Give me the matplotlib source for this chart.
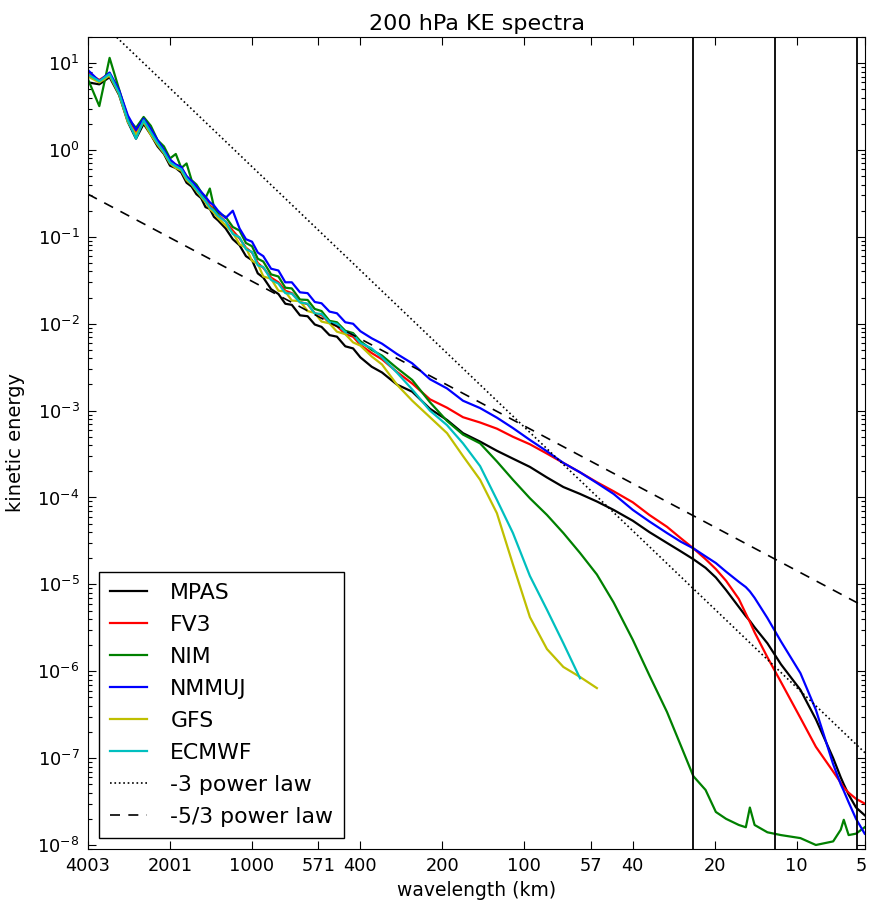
import matplotlib
matplotlib.use("Agg")
import matplotlib.pyplot as plt
from matplotlib.ticker import NullLocator, NullFormatter, FixedLocator, FixedFormatter, LogFormatterMathtext
from matplotlib.transforms import ScaledTranslation

plt.rcParams['font.family'] = ['DejaVu Sans']
plt.rcParams['font.size'] = 12.8
plt.rcParams['mathtext.default'] = 'regular'

# wavenumber (cycles around the globe); wavelength = 40030 km / wavenumber
wavenumber = [10, 11, 12, 13, 14, 15, 16, 17, 18, 19, 20, 21, 22, 23, 24, 25, 26, 27, 28, 29, 30,
              32, 34, 36, 38, 40, 42, 44, 47, 50, 53, 56, 60, 64, 68, 72, 77, 82, 88, 94, 100,
              110, 120, 136, 155, 180, 208, 238, 275, 317, 363, 419, 484, 556, 640, 738, 850,
              1000, 1150, 1335, 1500, 1668, 1850, 2018, 2200, 2450, 2600, 2690, 2800, 3120, 3500,
              4125, 4700, 5440, 5800, 5950, 6200, 6600, 7100]

mpas = [6.0, 5.7, 6.9, 4.3, 2.1, 1.35, 2.0, 1.5, 1.1, 0.90, 0.66, 0.62, 0.55, 0.42, 0.38, 0.31,
        0.28, 0.22, 0.21, 0.17, 0.155, 0.125, 0.094, 0.080, 0.060, 0.054, 0.038, 0.034, 0.025,
        0.022, 0.017, 0.0165, 0.0125, 0.0122, 0.0098, 0.0092, 0.0074, 0.0071, 0.0055, 0.0052, 0.0041,
        3.2e-3, 2.75e-3, 2.0e-3, 1.65e-3, 1.05e-3, 7.8e-4, 5.5e-4, 4.4e-4, 3.45e-4, 2.8e-4, 2.25e-4,
        1.7e-4, 1.32e-4, 1.1e-4, 9.0e-5, 7.2e-5, 5.4e-5, 4.0e-5, 3.0e-5, 2.4e-5, 1.95e-5, 1.55e-5,
        1.2e-5, 8.6e-6, 5.5e-6, 4.3e-6, 3.8e-6, 3.2e-6, 2.1e-6, 1.2e-6, 6.1e-7, 2.8e-7, 1.0e-7,
        6.0e-8, 5.0e-8, 3.8e-8, 2.7e-8, 2.2e-8]

fv3 = [7.6, 6.4, 7.6, 4.8, 2.4, 1.6, 2.3, 1.7, 1.25, 0.98, 0.74, 0.68, 0.62, 0.50, 0.42, 0.37,
       0.31, 0.27, 0.23, 0.21, 0.18, 0.15, 0.118, 0.096, 0.075, 0.066, 0.050, 0.044, 0.034, 0.030,
       0.024, 0.0225, 0.0178, 0.0168, 0.0132, 0.0126, 0.0102, 0.0094, 0.0076, 0.0071, 0.0057,
       4.6e-3, 3.9e-3, 2.8e-3, 2.05e-3, 1.35e-3, 1.08e-3, 8.4e-4, 7.3e-4, 6.2e-4, 5.0e-4, 4.1e-4,
       3.2e-4, 2.5e-4, 1.95e-4, 1.5e-4, 1.18e-4, 8.8e-5, 6.3e-5, 4.6e-5, 3.4e-5, 2.6e-5, 1.95e-5,
       1.5e-5, 1.1e-5, 6.8e-6, 4.6e-6, 3.7e-6, 2.8e-6, 1.45e-6, 7.5e-7, 2.9e-7, 1.35e-7, 7.0e-8,
       5.2e-8, 4.6e-8, 4.0e-8, 3.4e-8, 3.0e-8]

nim = [6.5, 3.2, 11.5, 5.0, 2.3, 1.8, 2.4, 1.9, 1.3, 1.1, 0.80, 0.90, 0.62, 0.70, 0.45, 0.40,
       0.33, 0.28, 0.36, 0.22, 0.19, 0.17, 0.13, 0.118, 0.085, 0.078, 0.056, 0.052, 0.037, 0.035,
       0.026, 0.0255, 0.019, 0.0188, 0.0148, 0.0140, 0.0108, 0.0104, 0.0083, 0.0078, 0.0063,
       5.0e-3, 4.3e-3, 3.1e-3, 2.25e-3, 1.25e-3, 7.6e-4, 5.3e-4, 4.2e-4, 2.6e-4, 1.6e-4, 9.8e-5,
       6.3e-5, 3.9e-5, 2.3e-5, 1.3e-5, 6.2e-6, 2.3e-6, 9.0e-7, 3.4e-7, 1.4e-7, 6.2e-8, 4.3e-8,
       2.4e-8, 2.0e-8, 1.7e-8, 1.6e-8, 2.7e-8, 1.7e-8, 1.4e-8, 1.3e-8, 1.2e-8, 1.0e-8, 1.1e-8,
       1.5e-8, 1.95e-8, 1.3e-8, 1.35e-8, 1.6e-8]

nmmuj = [8.3, 6.2, 7.8, 4.9, 2.5, 1.7, 2.3, 1.75, 1.3, 1.0, 0.78, 0.68, 0.64, 0.50, 0.44, 0.38,
         0.33, 0.29, 0.25, 0.23, 0.20, 0.165, 0.20, 0.125, 0.094, 0.088, 0.066, 0.060, 0.043, 0.041,
         0.030, 0.030, 0.023, 0.0225, 0.0178, 0.0172, 0.0138, 0.0132, 0.0104, 0.0100, 0.0082,
         6.8e-3, 5.9e-3, 4.5e-3, 3.5e-3, 2.3e-3, 1.8e-3, 1.3e-3, 1.07e-3, 8.3e-4, 6.3e-4, 4.6e-4,
         3.4e-4, 2.5e-4, 1.95e-4, 1.47e-4, 1.1e-4, 7.2e-5, 5.3e-5, 3.9e-5, 3.1e-5, 2.6e-5, 2.1e-5,
         1.76e-5, 1.4e-5, 1.07e-5, 9.3e-6, 8.3e-6, 7.0e-6, 4.1e-6, 2.2e-6, 9.5e-7, 3.6e-7, 8.5e-8,
         5.0e-8, 4.2e-8, 3.1e-8, 2.0e-8, 1.35e-8]

gfs = [7.0, 6.0, 7.2, 4.4, 2.1, 1.5, 2.1, 1.5, 1.15, 0.92, 0.70, 0.62, 0.58, 0.45, 0.40, 0.34,
       0.29, 0.25, 0.21, 0.19, 0.165, 0.135, 0.112, 0.082, 0.075, 0.053, 0.049, 0.035, 0.033,
       0.024, 0.0235, 0.0185, 0.0182, 0.0140, 0.0133, 0.0106, 0.0101, 0.0081, 0.0076, 0.0061, 0.0056,
       4.2e-3, 3.4e-3, 2.0e-3, 1.3e-3, 8.4e-4, 5.5e-4, 3.0e-4, 1.6e-4, 6.6e-5, 1.7e-5, 4.2e-6,
       1.8e-6, 1.12e-6, 8.6e-7, 6.4e-7]

ecmwf = [7.4, 6.2, 7.5, 4.5, 2.2, 1.35, 2.2, 1.6, 1.2, 0.95, 0.72, 0.65, 0.60, 0.47, 0.41, 0.35,
         0.30, 0.26, 0.22, 0.20, 0.175, 0.150, 0.108, 0.099, 0.072, 0.067, 0.047, 0.045, 0.032,
         0.029, 0.0225, 0.0222, 0.0176, 0.0170, 0.0131, 0.0130, 0.0104, 0.0100, 0.0080, 0.0075, 0.0060,
         5.2e-3, 4.1e-3, 2.75e-3, 1.75e-3, 1.0e-3, 6.8e-4, 4.2e-4, 2.3e-4, 9.4e-5, 3.9e-5, 1.25e-5,
         5.1e-6, 2.1e-6, 8.3e-7]

# reference power laws, end points
law_k = [10, 7120]
law_m3 = [41.0, 1.15e-7]
law_m53 = [0.31, 5.5e-6]

# grid-scale markers (24, 12 and 6 km)
marker_k = [1668, 3336, 6672]

tick_k = [10, 20, 40, 70, 100, 200, 400, 700, 1000, 2000, 4000, 7120]
tick_labels = ['4003', '2001', '1000', '571', '400', '200', '100', '57', '40', '20', '10', '5']
ytick_major = [1e1, 1e0, 1e-1, 1e-2, 1e-3, 1e-4, 1e-5, 1e-6, 1e-7, 1e-8]
ytick_minor = [m * d for d in [1e-9, 1e-8, 1e-7, 1e-6, 1e-5, 1e-4, 1e-3, 1e-2, 1e-1, 1e0, 1e1]
               for m in range(2, 10) if 9.0e-9 <= m * d <= 20]

series = [("MPAS", mpas, 'k'), ("FV3", fv3, 'r'), ("NIM", nim, (0, 0.5, 0)),
          ("NMMUJ", nmmuj, 'b'), ("GFS", gfs, (0.75, 0.75, 0)), ("ECMWF", ecmwf, (0, 0.75, 0.75))]

fig = plt.figure(figsize=(8.69, 9.02), dpi=100)
ax = fig.add_axes([0.1013, 0.0588, 0.8941, 0.9002])

for name, vals, col in series:
    ax.plot(wavenumber[:len(vals)], vals, color=col, lw=1.6, label=name)

ax.plot(law_k, law_m3, 'k:', lw=1.2, label="-3 power law")
ax.plot(law_k, law_m53, 'k--', lw=1.2, dashes=(6, 5), label="-5/3 power law")

for k in marker_k:
    ax.axvline(k, color='k', lw=1.3)

ax.set_xscale('log')
ax.set_yscale('log')
ax.set_xlim(10, 7120)
ax.set_ylim(9.0e-9, 20)
ax.xaxis.set_major_locator(FixedLocator(tick_k))
ax.xaxis.set_major_formatter(FixedFormatter(tick_labels))
ax.xaxis.set_minor_locator(NullLocator())
ax.yaxis.set_major_locator(FixedLocator(ytick_major))
ax.yaxis.set_major_formatter(LogFormatterMathtext())
ax.yaxis.set_minor_locator(FixedLocator(ytick_minor))
ax.yaxis.set_minor_formatter(NullFormatter())
ax.tick_params(which='both', direction='in', top=True, right=True)
ax.tick_params(which='major', length=6, width=0.8, pad=6)
ax.tick_params(which='minor', length=3, width=0.8)

# keep the last wavelength label inside the picture
last = ax.get_xticklabels()[-1]
last.set_transform(last.get_transform() + ScaledTranslation(-3 / 72, 0, fig.dpi_scale_trans))

ax.set_title("200 hPa KE spectra", fontsize=16, pad=5)
ax.set_xlabel("wavelength (km)", fontsize=13.5, labelpad=4)
ax.set_ylabel("kinetic energy", fontsize=14, labelpad=9)

leg = ax.legend(loc='lower left', fontsize=15.8, fancybox=False, framealpha=1,
                edgecolor='k', handlelength=1.7, handletextpad=1.05, labelspacing=0.55,
                borderpad=0.5, borderaxespad=0.5)
leg.get_frame().set_linewidth(1.0)

fig.savefig("out.png", dpi=100, facecolor='white')
